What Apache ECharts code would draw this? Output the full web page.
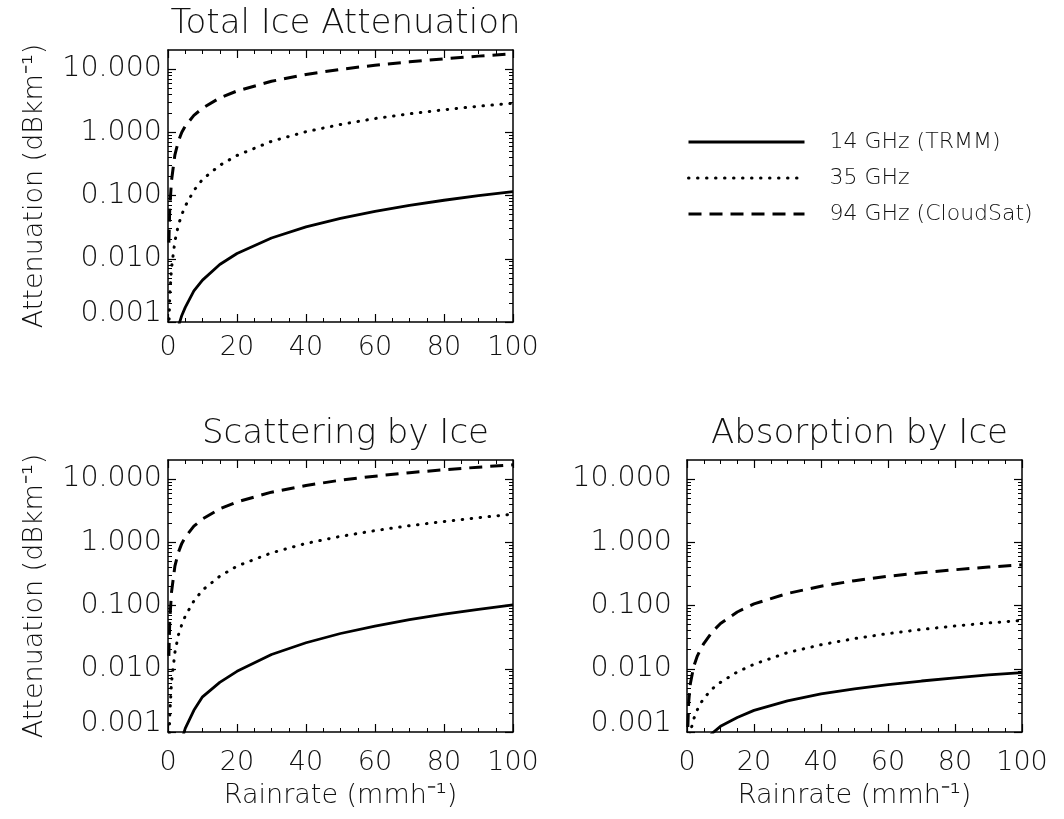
<!DOCTYPE html>
<html>
<head>
<meta charset="utf-8">
<script src="https://cdn.jsdelivr.net/npm/echarts@6/dist/echarts.min.js"></script>
<style>
  html, body { margin: 0; padding: 0; background: #ffffff; }
  #chart { width: 1064px; height: 819px; }
</style>
</head>
<body>
<div id="chart"></div>
<script>
// Rain rate samples (mm/h) shared by every curve
const RAINRATE = [0.25, 0.5, 1, 2, 3, 4, 5, 7.5, 10, 15, 20, 30, 40, 50, 60, 70, 80, 90, 100];

// Total ice attenuation (dB/km)
const TOTAL_14 = [0.00001, 0.00003, 0.0001, 0.00048, 0.00085, 0.00127, 0.0017, 0.0031, 0.0046, 0.0081, 0.0121, 0.0213, 0.0319, 0.0436, 0.0563, 0.0698, 0.0842, 0.0993, 0.115];
const TOTAL_35 = [0.0008, 0.0025, 0.007, 0.019, 0.034, 0.050, 0.068, 0.12, 0.18, 0.30, 0.43, 0.72, 1.02, 1.33, 1.65, 1.96, 2.27, 2.58, 2.88];
const TOTAL_94 = [0.018, 0.060, 0.17, 0.44, 0.72, 1.00, 1.25, 1.85, 2.4, 3.5, 4.5, 6.4, 8.2, 9.9, 11.5, 13.0, 14.5, 16.0, 17.5];

// Scattering by ice (dB/km)
const SCAT_14 = [0.00001, 0.00003, 0.0001, 0.0003, 0.0005, 0.00075, 0.00114, 0.0022, 0.0036, 0.0061, 0.0091, 0.0168, 0.0258, 0.0361, 0.0474, 0.0597, 0.073, 0.0871, 0.102];
const SCAT_35 = [0.0005, 0.0018, 0.006, 0.018, 0.034, 0.050, 0.068, 0.118, 0.175, 0.29, 0.42, 0.68, 0.96, 1.24, 1.53, 1.83, 2.13, 2.45, 2.78];
const SCAT_94 = [0.016, 0.055, 0.16, 0.42, 0.69, 0.96, 1.20, 1.80, 2.33, 3.38, 4.35, 6.2, 7.9, 9.6, 11.1, 12.6, 14.0, 15.4, 16.8];

// Absorption by ice (dB/km)
const ABS_14 = [0.00005, 0.00009, 0.00016, 0.0003, 0.00042, 0.00054, 0.00066, 0.00095, 0.00123, 0.0017, 0.0022, 0.0031, 0.0040, 0.0048, 0.0056, 0.0064, 0.0072, 0.0080, 0.0087];
const ABS_35 = [0.00033, 0.0006, 0.0010, 0.0016, 0.0022, 0.0028, 0.0034, 0.0048, 0.0061, 0.0089, 0.0118, 0.018, 0.024, 0.030, 0.036, 0.0418, 0.0475, 0.053, 0.058];
const ABS_94 = [0.0012, 0.0030, 0.0058, 0.0108, 0.0155, 0.020, 0.025, 0.038, 0.052, 0.079, 0.106, 0.155, 0.202, 0.247, 0.290, 0.330, 0.368, 0.405, 0.44];

const SERIES_NAMES = ['14 GHz (TRMM)', '35 GHz', '94 GHz (CloudSat)'];
const PANEL_TITLES = ['Total Ice Attenuation', 'Scattering by Ice', 'Absorption by Ice'];
const Y_TICK_VALUES = [0.001, 0.01, 0.1, 1, 10];
const Y_MIN = 0.001, Y_MAX = 20;
const X_MIN = 0, X_MAX = 100, X_STEP = 20;
const Y_NAME = 'Attenuation (dBkm\u207B\u00B9)';
const X_NAME = 'Rainrate (mmh\u207B\u00B9)';

const FONT = 'DejaVu Sans';
const INK = '#111111';

// Log minor ticks: 2..9 within each decade
const minorLogTicks = [];
Y_TICK_VALUES.forEach(d => {
  for (let k = 2; k <= 9; k++) {
    const v = +(d * k).toPrecision(3);
    if (v < Y_MAX) minorLogTicks.push(v);
  }
});

const panels = [
  { grid: { left: 168, top: 50, width: 345, height: 272 }, data: [TOTAL_14, TOTAL_35, TOTAL_94], yName: true, xName: false, yMargin: 6, xMargin: 12 },
  { grid: { left: 168, top: 460, width: 345, height: 272 }, data: [SCAT_14, SCAT_35, SCAT_94], yName: true, xName: true, yMargin: 6, xMargin: 17 },
  { grid: { left: 687, top: 460, width: 335, height: 272 }, data: [ABS_14, ABS_35, ABS_94], yName: false, xName: true, yMargin: 15, xMargin: 17 }
];

const lineStyles = [
  { color: '#000', width: 2.8, type: 'solid' },
  { color: '#000', width: 3, type: [0.5, 8.5], cap: 'round' },
  { color: '#000', width: 3, type: [13, 8] }
];

const axisLineStyle = { lineStyle: { color: '#000', width: 1.5 } };
const grids = [], xAxes = [], yAxes = [], series = [], titles = [];

panels.forEach((p, g) => {
  grids.push(Object.assign({ containLabel: false }, p.grid));
  titles.push({
    text: PANEL_TITLES[g],
    left: p.grid.left + p.grid.width / 2,
    top: p.grid.top - 48,
    textAlign: 'center',
    textStyle: { fontFamily: FONT, fontSize: 34, fontWeight: 200, color: INK }
  });

  const xCommon = {
    type: 'value', gridIndex: g, min: X_MIN, max: X_MAX, interval: X_STEP,
    splitLine: { show: false },
    axisLine: axisLineStyle,
    axisTick: { show: true, inside: true, length: 8, lineStyle: { color: '#000', width: 1.2 } },
    minorTick: { show: true, splitNumber: 4, length: 4, lineStyle: { color: '#000', width: 1 } }
  };
  xAxes.push(Object.assign({}, xCommon, {
    position: 'bottom',
    name: p.xName ? X_NAME : '',
    nameLocation: 'middle',
    nameGap: 50,
    nameTextStyle: { fontFamily: FONT, fontSize: 27, fontWeight: 200, color: INK },
    axisLabel: { show: true, margin: p.xMargin, fontFamily: FONT, fontSize: 27, fontWeight: 200, color: INK }
  }));
  xAxes.push(Object.assign({}, xCommon, { position: 'top', axisLabel: { show: false } }));

  const yBase = {
    type: 'log', logBase: 10, gridIndex: g, min: Y_MIN, max: Y_MAX,
    splitLine: { show: false }
  };
  const majorTick = { show: true, inside: true, length: 8, customValues: Y_TICK_VALUES, lineStyle: { color: '#000', width: 1.2 } };
  const minorTick = { show: true, inside: true, length: 4, customValues: minorLogTicks, lineStyle: { color: '#000', width: 1 } };

  yAxes.push(Object.assign({}, yBase, {
    position: 'left',
    axisLine: axisLineStyle,
    axisTick: majorTick,
    name: p.yName ? Y_NAME : '',
    nameLocation: 'middle',
    nameRotate: 90,
    nameGap: 120,
    nameTextStyle: { fontFamily: FONT, fontSize: 27, fontWeight: 200, color: INK },
    axisLabel: {
      show: true,
      customValues: Y_TICK_VALUES,
      margin: p.yMargin,
      fontFamily: FONT, fontSize: 28.5, fontWeight: 200, color: INK,
      formatter: v => {
        const s = Number(v).toFixed(3);
        return Math.abs(v - Y_MIN) < 1e-9 ? '{lo|' + s + '}' : s;
      },
      rich: { lo: { fontFamily: FONT, fontSize: 28.5, fontWeight: 200, color: INK, padding: [0, 0, 16, 0] } }
    }
  }));
  yAxes.push(Object.assign({}, yBase, { position: 'left', axisLine: { show: false }, axisTick: minorTick, axisLabel: { show: false } }));
  yAxes.push(Object.assign({}, yBase, { position: 'right', axisLine: axisLineStyle, axisTick: majorTick, axisLabel: { show: false } }));
  yAxes.push(Object.assign({}, yBase, { position: 'right', axisLine: { show: false }, axisTick: minorTick, axisLabel: { show: false } }));

  p.data.forEach((vals, i) => {
    series.push({
      name: SERIES_NAMES[i],
      type: 'line',
      xAxisIndex: g * 2,
      yAxisIndex: g * 4,
      data: RAINRATE.map((r, k) => [r, vals[k]]),
      showSymbol: false,
      symbol: 'none',
      smooth: false,
      clip: true,
      itemStyle: { color: '#000' },
      lineStyle: lineStyles[i]
    });
  });
});

const chart = echarts.init(document.getElementById('chart'), null, { renderer: 'canvas' });
chart.setOption({
  animation: false,
  backgroundColor: '#ffffff',
  title: titles,
  legend: {
    data: SERIES_NAMES,
    orient: 'vertical',
    left: 682,
    top: 126,
    itemWidth: 116,
    itemHeight: 14,
    itemGap: 14,
    itemStyle: { opacity: 0 },
    lineStyle: { width: 3, color: '#000', type: 'inherit', cap: 'inherit' },
    textStyle: { fontFamily: FONT, fontSize: 22, fontWeight: 200, color: INK, lineHeight: 20, padding: [0, 0, 0, 20] }
  },
  grid: grids,
  xAxis: xAxes,
  yAxis: yAxes,
  series: series
});
</script>
</body>
</html>
